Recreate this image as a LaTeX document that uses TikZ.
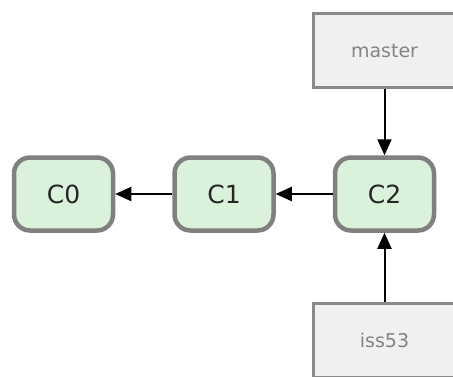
\documentclass[tikz,border=0pt]{standalone}
\usepackage{fontspec}
\setmainfont{DejaVu Sans}
\usetikzlibrary{arrows.meta, positioning}
\definecolor{commitfill}{HTML}{DAF2DB}
\definecolor{commitline}{HTML}{808080}
\definecolor{branchfill}{HTML}{F0F0EE}
\definecolor{branchline}{HTML}{8A8A8A}
\definecolor{branchtext}{HTML}{80858A}
\tikzset{
    % commit boxes and branch labels
    commit/.style = {rectangle, rounded corners=16pt, draw=commitline, line width=4.5pt, fill=commitfill, minimum width=99pt, minimum height=73pt, text centered, text=black!85, font=\fontsize{25}{28}\selectfont},
    branch/.style = {rectangle, draw=branchline, line width=3pt, fill=branchfill, minimum width=143pt, minimum height=74pt, text=branchtext, font=\fontsize{19}{22}\selectfont},
    arrow/.style = {line width=2pt, -{Triangle[length=16pt, width=14pt]}}
}

\begin{document}
\begin{tikzpicture}[x=1pt, y=-1pt, node distance=66pt and 57pt]
\useasboundingbox (0,0) rectangle (453,376);

\node[commit] (c0) at (63.5,194) {C0};
\node[commit, right=of c0] (c1) {C1};
\node[commit, right=of c1] (c2) {C2};
\node[branch, above=of c2] (master) {master};
\node[branch, below=69pt of c2] (iss53) {iss53};

\draw[arrow] (c1) -- (c0);
\draw[arrow] (c2) -- (c1);
\draw[arrow] (master) -- (c2);
\draw[arrow] (iss53) -- (c2);

\end{tikzpicture}
\end{document}
